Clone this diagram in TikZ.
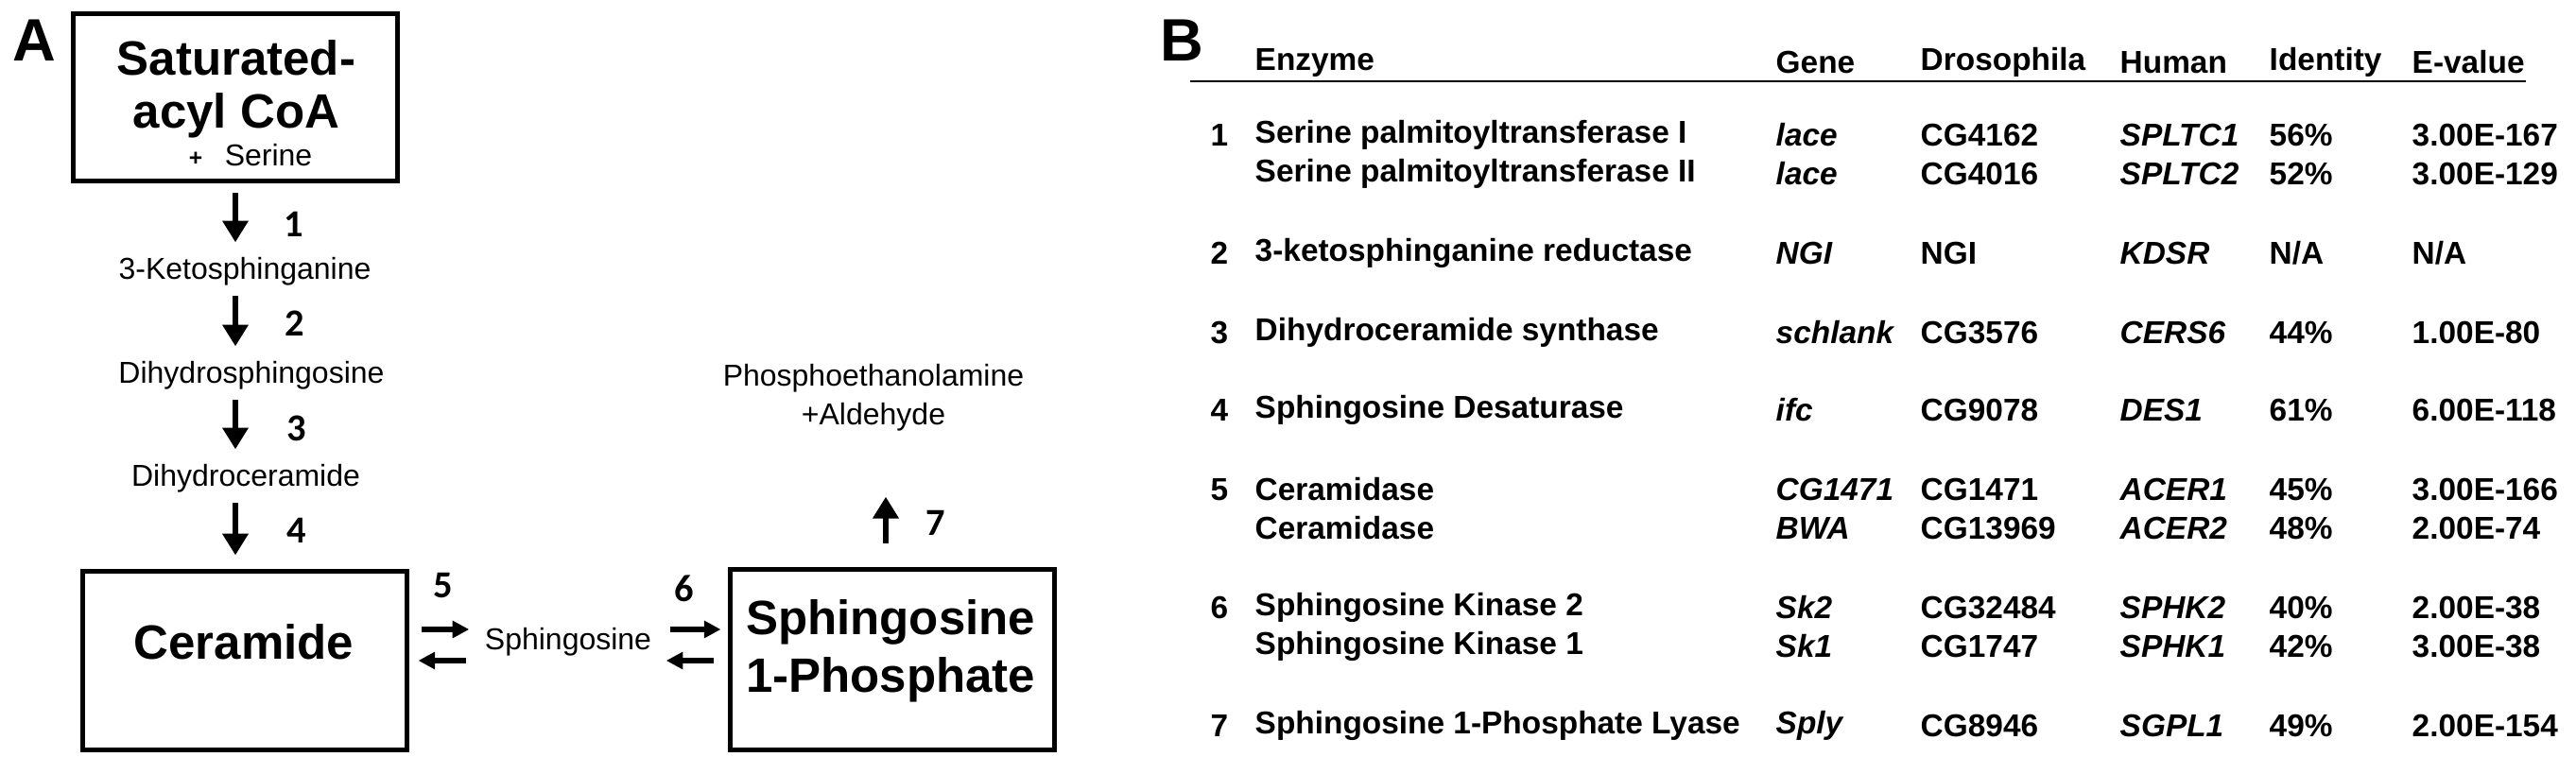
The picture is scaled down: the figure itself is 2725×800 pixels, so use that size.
\documentclass[tikz,border=0pt]{standalone}
\usepackage{fontspec}
\setmainfont{Liberation Sans}
\newfontfamily\numfont{Carlito}
\usetikzlibrary{arrows.meta}

\begin{document}
\begin{tikzpicture}[
    x = 0.01cm, y = -0.01cm,
    every node/.style = {inner sep = 0pt},
    box/.style = {draw, line width = 1.4pt, minimum width = 3.42cm},
    big/.style = {font = \bfseries\fontsize{14.5}{16}\selectfont},
    small/.style = {font = \fontsize{9.1}{10}\selectfont},
    stepno/.style = {font = \numfont\bfseries\fontsize{11.5}{12}\selectfont},
    panel/.style = {font = \bfseries\fontsize{18}{20}\selectfont},
    tab/.style = {font = \bfseries\fontsize{9.5}{11}\selectfont, anchor = west},
    tabit/.style = {font = \bfseries\itshape\fontsize{9.5}{11}\selectfont, anchor = west},
    down/.style = {line width = 1.7pt, -{Triangle[width = 7.5pt, length = 6.5pt]},
                   shorten < = 0.1cm, shorten > = 0.15cm},
    side/.style = {line width = 1.5pt, -{Triangle[width = 5pt, length = 5pt]}}]

\useasboundingbox (0,0) rectangle (2725,800);

% panel A
\path (36,43) node[panel] (labA) {A}
      (249,103) node[box, minimum height = 1.76cm] (sat) {}
      (250,61) node[big] (satA) {Saturated-}
      (250,122) node[big] (satB) {acyl CoA}
      (207,168) node[font = \bfseries\fontsize{7}{8}\selectfont] (plus) {+}
      (284,164) node[small] (ser) {Serine}
      (259,287) node[small] (keto) {3-Ketosphinganine}
      (266,397) node[small] (dihs) {Dihydrosphingosine}
      (260,506) node[small] (dihc) {Dihydroceramide}
      (259,699) node[box, minimum height = 1.88cm] (cer) {}
      (258,679) node[big] (cerT) {Ceramide}
      (601,679) node[small] (sph) {Sphingosine}
      (944,698) node[box, minimum height = 1.91cm] (s1p) {}
      (942,658) node[big] (s1pA) {Sphingosine}
      (942,719) node[big] (s1pB) {1-Phosphate}
      (924,400) node[small] (pea) {Phosphoethanolamine}
      (924,441) node[small] (ald) {+Aldehyde};

\path (311,237) node[stepno] (n1) {1}
      (312,342) node[stepno] (n2) {2}
      (314,453) node[stepno] (n3) {3}
      (314,561) node[stepno] (n4) {4}
      (469,620) node[stepno] (n5) {5}
      (724,623) node[stepno] (n6) {6}
      (990,553) node[stepno] (n7) {7};

\draw[down] (sat.south) -- (sat.south |- keto.north);
\draw[down] (sat.south |- keto.south) -- (sat.south |- dihs.north);
\draw[down] (sat.south |- dihs.south) -- (sat.south |- dihc.north);
\draw[down] (sat.south |- dihc.south) -- (cer.north -| sat.south);

\draw[side, shorten < = 0.13cm, shorten > = 0.16cm]
    ([yshift = 0.33cm]cer.east) -- ([yshift = 0.33cm]cer.east -| sph.west);
\draw[side, shorten < = 0.19cm, shorten > = 0.1cm]
    (cer.east -| sph.west) -- (cer.east);
\draw[side, shorten < = 0.19cm, shorten > = 0.08cm]
    ([yshift = 0.33cm]cer.east -| sph.east) -- ([yshift = 0.33cm]cer.east -| s1p.west);
\draw[side, shorten < = 0.15cm, shorten > = 0.15cm]
    (cer.east -| s1p.west) -- (cer.east -| sph.east);
\draw[down, shorten < = 0.25cm, shorten > = 0.69cm]
    ([xshift = -0.07cm]s1p.north) -- ([xshift = -0.07cm]s1p.north |- ald.south);

% panel B
\path (1250,43) node[panel] (labB) {B}
      (1259,86) coordinate (hl)
      (2672,86) coordinate (hr);
\draw[line width = 0.85pt] (hl) -- (hr);

\path (1327,66) node[tab] (hEnz) {Enzyme}
      (1878,66) node[tab] (hGene) {Gene}
      (2031,66) node[tab] (hDro) {Drosophila}
      (2242,66) node[tab] (hHum) {Human}
      (2400,66) node[tab] (hId) {Identity}
      (2551,66) node[tab] (hE) {E-value};

\path (1290,143) node[tab, anchor = center] (r1) {1}
      (1327,143) node[tab] (e1a) {Serine palmitoyltransferase I}
      (1878,143) node[tabit] (g1a) {lace}
      (2031,143) node[tab] (d1a) {CG4162}
      (2242,143) node[tabit] (h1a) {SPLTC1}
      (2400,143) node[tab] (i1a) {56\%}
      (2551,143) node[tab] (v1a) {3.00E-167}
      (1327,184) node[tab] (e1b) {Serine palmitoyltransferase II}
      (1878,184) node[tabit] (g1b) {lace}
      (2031,184) node[tab] (d1b) {CG4016}
      (2242,184) node[tabit] (h1b) {SPLTC2}
      (2400,184) node[tab] (i1b) {52\%}
      (2551,184) node[tab] (v1b) {3.00E-129};

\path (1290,268) node[tab, anchor = center] (r2) {2}
      (1327,268) node[tab] (e2) {3-ketosphinganine reductase}
      (1878,268) node[tabit] (g2) {NGI}
      (2031,268) node[tab] (d2) {NGI}
      (2242,268) node[tabit] (h2) {KDSR}
      (2400,268) node[tab] (i2) {N/A}
      (2551,268) node[tab] (v2) {N/A};

\path (1290,352) node[tab, anchor = center] (r3) {3}
      (1327,352) node[tab] (e3) {Dihydroceramide synthase}
      (1878,352) node[tabit] (g3) {schlank}
      (2031,352) node[tab] (d3) {CG3576}
      (2242,352) node[tabit] (h3) {CERS6}
      (2400,352) node[tab] (i3) {44\%}
      (2551,352) node[tab] (v3) {1.00E-80};

\path (1290,434) node[tab, anchor = center] (r4) {4}
      (1327,434) node[tab] (e4) {Sphingosine Desaturase}
      (1878,434) node[tabit] (g4) {ifc}
      (2031,434) node[tab] (d4) {CG9078}
      (2242,434) node[tabit] (h4) {DES1}
      (2400,434) node[tab] (i4) {61\%}
      (2551,434) node[tab] (v4) {6.00E-118};

\path (1290,518) node[tab, anchor = center] (r5) {5}
      (1327,518) node[tab] (e5a) {Ceramidase}
      (1878,518) node[tabit] (g5a) {CG1471}
      (2031,518) node[tab] (d5a) {CG1471}
      (2242,518) node[tabit] (h5a) {ACER1}
      (2400,518) node[tab] (i5a) {45\%}
      (2551,518) node[tab] (v5a) {3.00E-166}
      (1327,559) node[tab] (e5b) {Ceramidase}
      (1878,559) node[tabit] (g5b) {BWA}
      (2031,559) node[tab] (d5b) {CG13969}
      (2242,559) node[tabit] (h5b) {ACER2}
      (2400,559) node[tab] (i5b) {48\%}
      (2551,559) node[tab] (v5b) {2.00E-74};

\path (1290,643) node[tab, anchor = center] (r6) {6}
      (1327,643) node[tab] (e6a) {Sphingosine Kinase 2}
      (1878,643) node[tabit] (g6a) {Sk2}
      (2031,643) node[tab] (d6a) {CG32484}
      (2242,643) node[tabit] (h6a) {SPHK2}
      (2400,643) node[tab] (i6a) {40\%}
      (2551,643) node[tab] (v6a) {2.00E-38}
      (1327,684) node[tab] (e6b) {Sphingosine Kinase 1}
      (1878,684) node[tabit] (g6b) {Sk1}
      (2031,684) node[tab] (d6b) {CG1747}
      (2242,684) node[tabit] (h6b) {SPHK1}
      (2400,684) node[tab] (i6b) {42\%}
      (2551,684) node[tab] (v6b) {3.00E-38};

\path (1290,768) node[tab, anchor = center] (r7) {7}
      (1327,768) node[tab] (e7) {Sphingosine 1-Phosphate Lyase}
      (1878,768) node[tabit] (g7) {Sply}
      (2031,768) node[tab] (d7) {CG8946}
      (2242,768) node[tabit] (h7) {SGPL1}
      (2400,768) node[tab] (i7) {49\%}
      (2551,768) node[tab] (v7) {2.00E-154};
\end{tikzpicture}
\end{document}
